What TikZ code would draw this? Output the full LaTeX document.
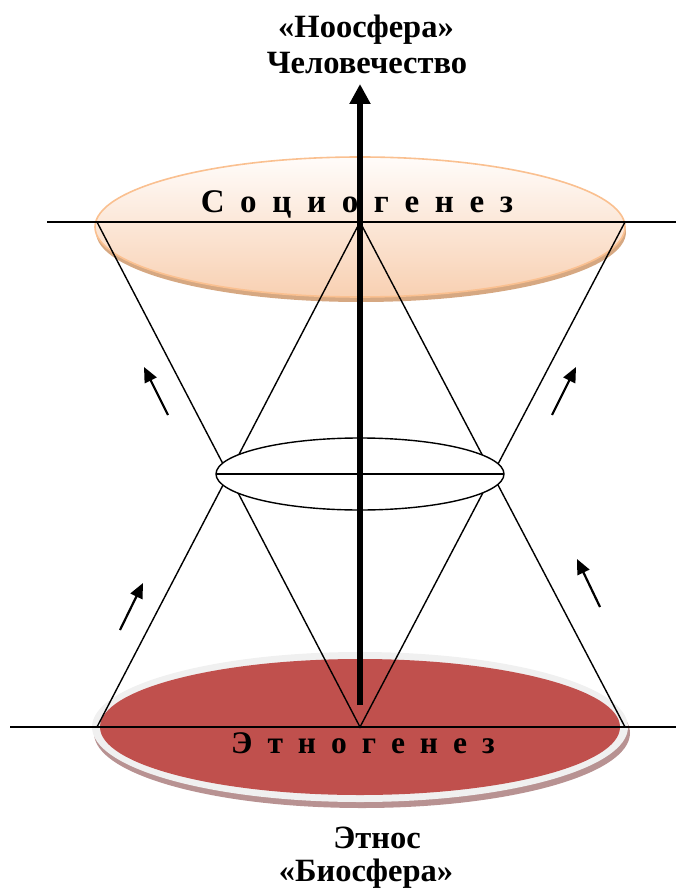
\documentclass[tikz,border=0pt]{standalone}
\usepackage{fontspec}
\setmainfont{Liberation Serif}
\newfontfamily\spacedfont[WordSpace=2.1]{Liberation Serif}
\newfontfamily\narrowfont[WordSpace=1.9]{Liberation Serif}
\usetikzlibrary{arrows.meta}
\definecolor{ethnored}{HTML}{C0504D}
\definecolor{rimgray}{HTML}{F0F0F0}
\definecolor{shadowred}{HTML}{B89292}
\definecolor{peachtop}{HTML}{FFFCFA}
\definecolor{peachbot}{HTML}{F8D0B2}
\definecolor{peachline}{HTML}{FAC090}
\definecolor{shadowtan}{HTML}{D6A882}
\tikzset{
  cone/.style={line width=1.4pt},
  flow/.style={line width=2.2pt,-{Triangle[length=15pt,width=13pt]}},
  title/.style={font=\fontsize{32.5}{36}\selectfont\bfseries, anchor=base},
  genesis/.style={font=\spacedfont\fontsize{33}{36}\selectfont\bfseries, anchor=base},
  ethnogen/.style={font=\narrowfont\fontsize{31.5}{36}\selectfont\bfseries, anchor=base},
}
\begin{document}
\begin{tikzpicture}[x=1pt,y=-1pt]
		\useasboundingbox (0,0) rectangle (676,890);
		%Points of the two cones
		\coordinate (topL) at (97,222);
		\coordinate (topR) at (625,222);
		\coordinate (topC) at (360,222);
		\coordinate (botL) at (97,727);
		\coordinate (botR) at (625,727);
		\coordinate (botC) at (360,727);
		\coordinate (midL) at (216,474);
		\coordinate (midR) at (504,474);
		%Bottom disc
		\fill[shadowred] (362,733) ellipse [x radius=268, y radius=75];
		\fill[rimgray] (360,727) ellipse [x radius=268, y radius=75];
		\fill[ethnored] (360,727) ellipse [x radius=260, y radius=68];
		%Top disc
		\fill[shadowtan] (361,232) ellipse [x radius=265, y radius=70];
		\shade[top color=peachtop, bottom color=peachbot] (360,227) ellipse [x radius=265, y radius=70];
		\draw[peachline, line width=1.6pt] (360,227) ellipse [x radius=265, y radius=70];
		%Horizon lines
		\draw[cone] (47,222) -- (676,222);
		\draw[cone] (10,727) -- (676,727);
		%Cones
		\draw[cone] (topL) -- (botC) -- (topR);
		\draw[cone] (botL) -- (topC) -- (botR);
		%Middle disc
		\draw[cone, fill=white] (360,474) ellipse [x radius=144, y radius=36];
		\draw[cone] (midL) -- (midR);
		%Axis
		\coordinate (axisB) at (360,705);
		\coordinate (axisT) at (360,84);
		\draw[line width=5.5pt, -{Triangle[length=20pt,width=20pt]}] (axisB) -- (axisT);
		%Small arrows
		\coordinate (a1) at (168,415); \coordinate (a1t) at (144,367);
		\coordinate (a2) at (552,415); \coordinate (a2t) at (576,367);
		\coordinate (a3) at (120,630); \coordinate (a3t) at (143,583);
		\coordinate (a4) at (600,607); \coordinate (a4t) at (577,559);
		\foreach \s/\t in {a1/a1t,a2/a2t,a3/a3t,a4/a4t}
		\draw[flow] (\s) -- (\t);
		%Labels
		\node[genesis] (socio) at (357,213) {С о ц и о г е н е з};
		\node[ethnogen] (ethno) at (363,753) {Э т н о г е н е з};
		\node[title] (noos) at (366,38) {«Ноосфера»};
		\node[title] (human) at (367,74) {Человечество};
		\node[title] (ethnos) at (377,848) {Этнос};
		\node[title] (bios) at (366,881) {«Биосфера»};
\end{tikzpicture}
\end{document}
